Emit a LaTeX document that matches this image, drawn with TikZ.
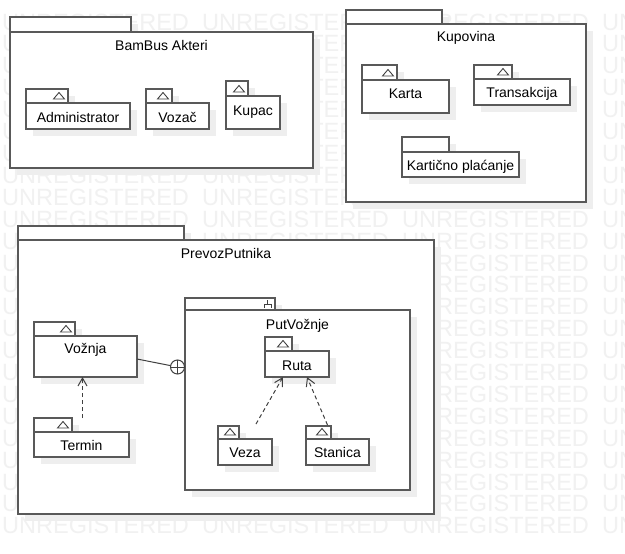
\documentclass[tikz,border=0pt]{standalone}
\usepackage{fontspec}
\setmainfont{Liberation Sans}
\usetikzlibrary{arrows.meta,calc}
\definecolor{linec}{HTML}{595959}
\definecolor{conc}{HTML}{404040}
\definecolor{shadowc}{HTML}{EEEEEE}
\definecolor{wmc}{HTML}{F1F1F1}
\tikzset{
  boxst/.style={rectangle, draw=linec, fill=white, line width=1.2pt, inner sep=0pt, outer sep=0pt},
  shadowfill/.style={fill=shadowc},
  lbl/.style={inner sep=0pt, font=\fontsize{14pt}{16pt}\selectfont, text=black},
  wm/.style={inner sep=0pt, font=\fontsize{23.5pt}{26pt}\selectfont, text=wmc},
  iconst/.style={draw=conc, line width=0.9pt},
  dep/.style={draw=conc, line width=1pt, dash pattern=on 4pt off 3pt, -{Straight Barb[length=8pt,width=9pt]}},
  assoc/.style={draw=conc, line width=1pt}
}
\newcommand\umlpkg[7]{%
  \fill[shadowfill] ({#2+7},{#3+7}) rectangle ({#4+7},{#5+7});
  \fill[shadowfill] ({#2+7},{#5+7}) rectangle ({#6+7},{#7+7});
  \node[boxst, anchor=north west, minimum width={#4-#2}, minimum height={#5-#3}] (#1-tab) at (#2,#3) {};
  \node[boxst, anchor=north west, minimum width={#6-#2}, minimum height={#7-#5}] (#1) at (#2,#5) {};
}
\newcommand\umllbl[3]{\node[lbl, anchor=base] (#1-label) at ([yshift=-#2pt]#1.north) {#3};}
\newcommand\triicon[1]{\draw[iconst] ([xshift=-14.5pt,yshift=4pt]#1-tab.south east) -- ++(11,0) -- ++(-5.5,-6.5) -- cycle;}
\begin{document}
\begin{tikzpicture}[x=1pt,y=-1pt]
\useasboundingbox (0,0) rectangle (625,554);
\clip (0,0) rectangle (625,554);
\fill[white] (0,0) rectangle (625,554);
% watermark
\foreach \k in {0,...,23}{
  \foreach \xx in {2,202,402,602}{
    \node[wm, anchor=base west] at (\xx,{30.1+21.9*\k}) {UNREGISTERED};
  }
}
% BamBus Akteri
\umlpkg{bambus}{10}{17}{131}{32}{313}{168}
\umllbl{bambus}{18}{BamBus Akteri}
\umlpkg{admin}{26}{89}{68}{103}{130}{129}
\umllbl{admin}{19}{Administrator}
\triicon{admin}
\umlpkg{vozac}{146}{89}{172}{103}{209}{129}
\umllbl{vozac}{19}{Vozač}
\triicon{vozac}
\umlpkg{kupac}{226}{81}{248}{96}{280}{129}
\umllbl{kupac}{19}{Kupac}
\triicon{kupac}
% Kupovina
\umlpkg{kupovina}{346}{10}{442}{24}{586}{202}
\umllbl{kupovina}{17.7}{Kupovina}
\umlpkg{karta}{362}{65}{397}{80}{449}{113}
\umllbl{karta}{18}{Karta}
\triicon{karta}
\umlpkg{trans}{474}{65}{512}{79}{570}{105}
\umllbl{trans}{18.5}{Transakcija}
\triicon{trans}
\umlpkg{kartpl}{402}{137}{449}{152}{519}{177}
\umllbl{kartpl}{18.5}{Kartično plaćanje}
% PrevozPutnika
\umlpkg{prevoz}{18}{226}{184}{240}{434}{514}
\umllbl{prevoz}{18.3}{PrevozPutnika}
\umlpkg{voznja}{34}{322}{75}{336}{137}{377}
\umllbl{voznja}{17.5}{Vožnja}
\triicon{voznja}
\umlpkg{termin}{34}{418}{72}{432}{129}{457}
\umllbl{termin}{18}{Termin}
\triicon{termin}
\umlpkg{putv}{185}{298}{275}{310}{410}{490}
\umllbl{putv}{19}{PutVožnje}
\draw[iconst] ([xshift=-7.5pt,yshift=10pt]putv-tab.south east) -- ++(0,4)
  ([xshift=-11pt,yshift=2.3pt]putv-tab.south east) -- ++(0,-3.7) -- ++(7,0) -- ++(0,3.7);
\umlpkg{ruta}{265}{337}{292}{351}{329}{377}
\umllbl{ruta}{19}{Ruta}
\triicon{ruta}
\umlpkg{veza}{218}{426}{239}{439}{272}{465}
\umllbl{veza}{18.5}{Veza}
\triicon{veza}
\umlpkg{stanica}{306}{426}{331}{439}{369}{465}
\umllbl{stanica}{18.5}{Stanica}
\triicon{stanica}
% connectors
\node[circle, draw=conc, fill=white, line width=1pt, minimum size=14pt, inner sep=0pt, outer sep=0pt] (nest) at (177.5,367) {};
\draw[assoc] (nest.north) -- (nest.south) (nest.west) -- (nest.east);
\draw[assoc] ([yshift=-2.5pt]voznja.east) -- (nest);
\draw[dep] ([xshift=1pt]termin.north |- termin-tab.north) -- ([xshift=-3pt]voznja.south);
\draw[dep] ([xshift=11pt,yshift=15pt]veza.north) -- ([xshift=-14pt]ruta.south);
\draw[dep] ([xshift=-10pt,yshift=14pt]stanica.north) -- ([xshift=10pt]ruta.south);
\end{tikzpicture}
\end{document}
